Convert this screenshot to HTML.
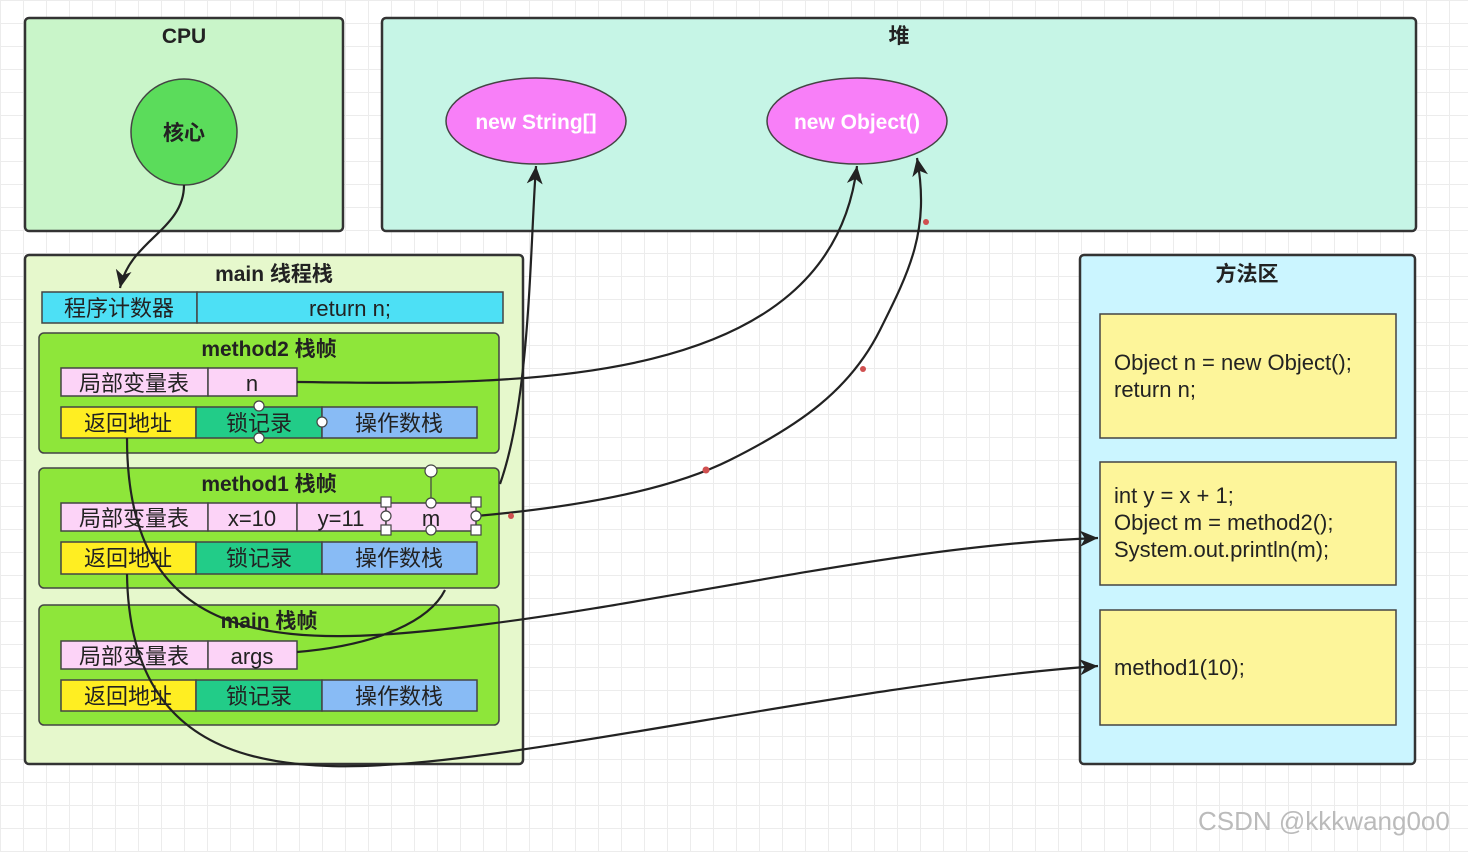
<!DOCTYPE html>
<html><head><meta charset="utf-8"><style>
html,body{margin:0;padding:0;}
body{width:1468px;height:847px;overflow:hidden;background:#fff;
background-image:linear-gradient(#ececec 1px,transparent 1px),linear-gradient(90deg,#ececec 1px,transparent 1px);background-size:23px 23px;}
text{font-family:"Liberation Sans","Noto Sans CJK SC",sans-serif;}
</style></head><body>
<svg width="1468" height="847" viewBox="0 0 1468 847" xmlns="http://www.w3.org/2000/svg">
<defs>
<marker id="b" markerWidth="20" markerHeight="16" refX="18" refY="8" orient="auto" markerUnits="userSpaceOnUse"><path d="M0,0 L18,8 L0,16 L5,8 z" fill="#222"/></marker></defs>
<g stroke="#333" stroke-width="2.5">
<rect x="25" y="18" width="318" height="213" rx="4" fill="#c9f5c9"/>
<rect x="382" y="18" width="1034" height="213" rx="4" fill="#c6f5e6"/>
<rect x="25" y="255" width="498" height="509" rx="4" fill="#e6f8cc"/>
<rect x="1080" y="255" width="335" height="509" rx="4" fill="#cbf5ff"/>
</g>
<g stroke="#444" stroke-width="1.5">
<circle cx="184" cy="132" r="53" fill="#5bdc5b"/>
<ellipse cx="536" cy="121" rx="90" ry="43" fill="#f87ff8"/>
<ellipse cx="857" cy="121" rx="90" ry="43" fill="#f87ff8"/>
<rect x="1100" y="314" width="296" height="124" fill="#fdf59a"/>
<rect x="1100" y="462" width="296" height="123" fill="#fdf59a"/>
<rect x="1100" y="610" width="296" height="115" fill="#fdf59a"/>
<rect x="42" y="292" width="155" height="31" fill="#4de0f5"/><rect x="197" y="292" width="306" height="31" fill="#4de0f5"/>
<rect x="39" y="333" width="460" height="120" rx="5" fill="#8ee63a"/>
<rect x="39" y="468" width="460" height="120" rx="5" fill="#8ee63a"/>
<rect x="39" y="605" width="460" height="120" rx="5" fill="#8ee63a"/>
<rect x="61" y="368" width="147" height="28" fill="#fcd3f7"/><rect x="208" y="368" width="89" height="28" fill="#fcd3f7"/>
<rect x="61" y="503" width="147" height="28" fill="#fcd3f7"/><rect x="208" y="503" width="89" height="28" fill="#fcd3f7"/><rect x="297" y="503" width="89" height="28" fill="#fcd3f7"/><rect x="386" y="503" width="90" height="28" fill="#fcd3f7"/>
<rect x="61" y="641" width="147" height="28" fill="#fcd3f7"/><rect x="208" y="641" width="89" height="28" fill="#fcd3f7"/>
<rect x="61" y="407" width="135" height="31" fill="#ffee22"/><rect x="196" y="407" width="126" height="31" fill="#22cc88"/><rect x="322" y="407" width="155" height="31" fill="#88bbf5"/>
<rect x="61" y="542" width="135" height="32" fill="#ffee22"/><rect x="196" y="542" width="126" height="32" fill="#22cc88"/><rect x="322" y="542" width="155" height="32" fill="#88bbf5"/>
<rect x="61" y="680" width="135" height="31" fill="#ffee22"/><rect x="196" y="680" width="126" height="31" fill="#22cc88"/><rect x="322" y="680" width="155" height="31" fill="#88bbf5"/>
</g>
<g font-weight="bold" font-size="21" fill="#222" text-anchor="middle">
<text x="184" y="43">CPU</text><text x="899" y="43">堆</text>
<text x="184" y="140">核心</text>
<text x="274" y="281">main 线程栈</text><text x="1247" y="281">方法区</text>
<text x="269" y="356">method2 栈帧</text><text x="269" y="491">method1 栈帧</text><text x="269" y="628">main 栈帧</text>
<text x="536" y="129" fill="#fff">new String[]</text><text x="857" y="129" fill="#fff">new Object()</text>
</g>
<g font-size="22" fill="#222" text-anchor="middle">
<text x="119" y="316">程序计数器</text><text x="350" y="316">return n;</text>
<text x="134" y="391">局部变量表</text><text x="252" y="391">n</text>
<text x="134" y="526">局部变量表</text><text x="252" y="526">x=10</text><text x="341" y="526">y=11</text><text x="431" y="526">m</text>
<text x="134" y="664">局部变量表</text><text x="252" y="664">args</text>
<text x="128" y="431">返回地址</text><text x="259" y="431">锁记录</text><text x="399" y="431">操作数栈</text>
<text x="128" y="566">返回地址</text><text x="259" y="566">锁记录</text><text x="399" y="566">操作数栈</text>
<text x="128" y="704">返回地址</text><text x="259" y="704">锁记录</text><text x="399" y="704">操作数栈</text>
</g>
<g font-size="22" fill="#222">
<text x="1114" y="370">Object n = new Object();</text><text x="1114" y="397">return n;</text>
<text x="1114" y="503">int y = x + 1;</text><text x="1114" y="530">Object m = method2();</text><text x="1114" y="557">System.out.println(m);</text>
<text x="1114" y="675">method1(10);</text>
<text x="1198" y="830" fill="#bbb" font-size="26">CSDN @kkkwang0o0</text>
</g>
<g fill="none" stroke="#222" stroke-width="2.2">
<path d="M184,185 C184,230 130,240 120,288" marker-end="url(#b)"/>
<path d="M297,382 C520,385 830,390 857,166" marker-end="url(#b)"/>
<path d="M476,516 C600,505 680,485 730,460 C800,425 850,390 880,330 C910,270 930,230 917,158" marker-end="url(#b)"/>
<path d="M500,484 C530,400 530,250 536,166" marker-end="url(#b)"/>
<path d="M127,438 C127,650 280,650 480,625 S 900,545 1098,538" marker-end="url(#b)"/>
<path d="M297,652 C380,645 430,620 445,590"/>
<path d="M127,574 C130,770 280,780 460,758 S 900,680 1098,666" marker-end="url(#b)"/>
</g>
<g fill="#fff" stroke="#444" stroke-width="1.2">
<line x1="431" y1="471" x2="431" y2="503" stroke="#444"/>
<circle cx="431" cy="471" r="6"/><circle cx="431" cy="503" r="5"/><circle cx="431" cy="530" r="5"/><circle cx="386" cy="516" r="5"/><circle cx="476" cy="516" r="5"/>
<rect x="381" y="497" width="10" height="10"/><rect x="471" y="497" width="10" height="10"/><rect x="381" y="525" width="10" height="10"/><rect x="471" y="525" width="10" height="10"/>
<circle cx="259" cy="406" r="5"/><circle cx="259" cy="438" r="5"/><circle cx="322" cy="422" r="5"/>
</g>
<g fill="#d05050"><circle cx="511" cy="516" r="3"/><circle cx="706" cy="470" r="3.5"/><circle cx="863" cy="369" r="3"/><circle cx="926" cy="222" r="3"/></g>
</svg>
</body></html>
